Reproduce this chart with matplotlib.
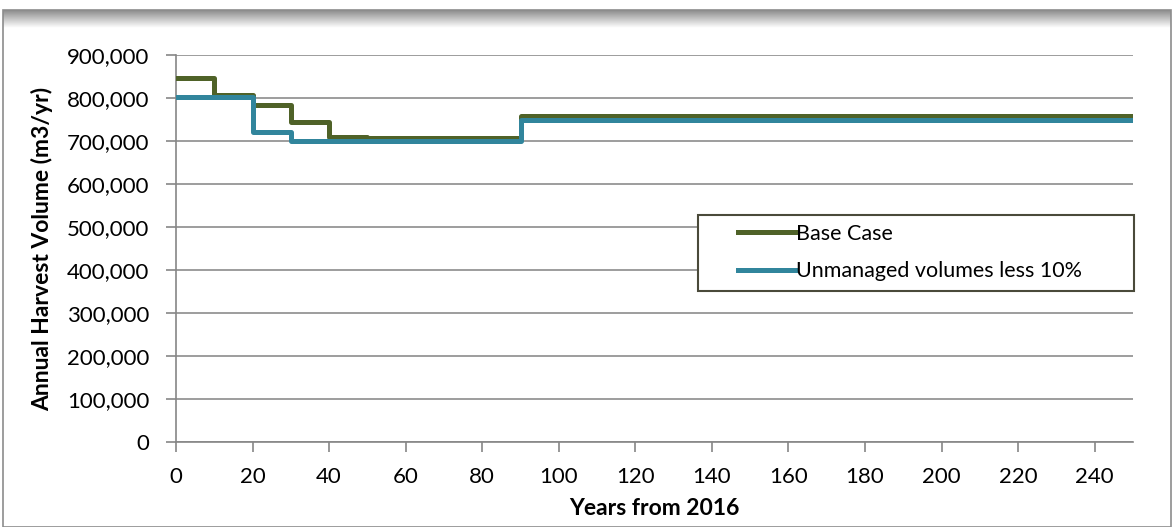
import numpy as np
import matplotlib.pyplot as plt
from matplotlib.patches import Rectangle

# step data (value holds from this year until the next one)
base_years = [0, 10, 20, 30, 40, 50, 90, 250]
base_vol = [847000, 807000, 784000, 745000, 709000, 707000, 757000, 757000]

unman_years = [0, 20, 30, 90, 250]
unman_vol = [802000, 721000, 700000, 749000, 749000]

x_ticks = list(range(0, 241, 20))
y_ticks = list(range(0, 900001, 100000))

plt.rcParams['font.family'] = ['Lato', 'DejaVu Sans']

fig = plt.figure(figsize=(11.75, 5.27), dpi=100)
W, H = 1175, 527

# outer chart frame with a grey shadow at the top
frame = Rectangle((3 / W, 0), 1168 / W, (H - 10) / H, transform=fig.transFigure,
                  fill=False, edgecolor='#8c8c8c', linewidth=1.2, zorder=0)
fig.patches.append(frame)
sh = fig.add_axes([3 / W, (H - 28) / H, 1168 / W, 18 / H])
grad = np.linspace(0.55, 1.0, 50).reshape(-1, 1)
sh.imshow(grad, aspect='auto', cmap='gray', vmin=0, vmax=1, extent=[0, 1, 0, 1])
sh.axis('off')

ax = fig.add_axes([176 / W, 1 - 442 / H, (1133 - 176) / W, (442 - 55) / H])

ax.step(base_years, base_vol, where='post', color='#4F6228', linewidth=3.6,
        label='Base Case', zorder=3)
ax.step(unman_years, unman_vol, where='post', color='#31859C', linewidth=3.6,
        label='Unmanaged volumes less 10%', zorder=4)

ax.set_xlim(0, 250)
ax.set_ylim(0, 900000)
ax.set_xticks(x_ticks)
ax.set_yticks(y_ticks)
ax.set_yticklabels(['{:,}'.format(v) for v in y_ticks])
ax.tick_params(axis='both', labelsize=16, colors='#868686', labelcolor='black',
               length=7, width=1.2, direction='out')
ax.tick_params(axis='x', pad=11)
ax.tick_params(axis='y', pad=12)

ax.grid(axis='y', color='#8c8c8c', linewidth=1.2)
ax.set_axisbelow(True)
for s in ['top', 'right']:
    ax.spines[s].set_visible(False)
for s in ['left', 'bottom']:
    ax.spines[s].set_color('#868686')
    ax.spines[s].set_linewidth(1.2)

ax.set_xlabel('Years from 2016', fontsize=16.5, fontweight='bold', labelpad=8)
ax.set_ylabel('Annual Harvest Volume (m3/yr)', fontsize=16.5, fontweight='bold', labelpad=10)

# legend box drawn by hand so the padding matches
box = Rectangle((698 / W, 1 - 291 / H), 436 / W, 76 / H, transform=fig.transFigure,
                facecolor='white', edgecolor='#4a4a3a', linewidth=1.5, zorder=5)
ax.add_patch(box)
box.set_clip_on(False)
leg = ax.legend(loc='upper left', bbox_to_anchor=(738 / W, 1 - 224 / H),
                bbox_transform=fig.transFigure, fontsize=15.5, frameon=False,
                handlelength=2.65, handletextpad=0.05, borderpad=0,
                labelspacing=0.8, borderaxespad=0)
leg.set_zorder(6)

fig.savefig('out.png', dpi=100)
